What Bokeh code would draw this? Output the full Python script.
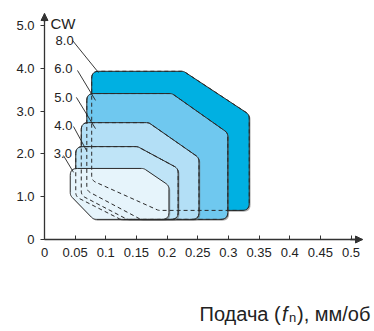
import math
from bokeh.plotting import figure
from bokeh.models import Range1d, LinearAxis, FixedTicker, Label, Arrow, NormalHead
from bokeh.embed import file_html
from bokeh.resources import INLINE

# ---------------- data ----------------
x_ticks = [0, 0.05, 0.1, 0.15, 0.2, 0.25, 0.3, 0.35, 0.4, 0.45, 0.5]
x_tick_labels = ["0", "0.05", "0.1", "0.15", "0.2", "0.25", "0.3", "0.35", "0.4", "0.45", "0.5"]
y_ticks = [0, 1, 2, 3, 4, 5]
y_tick_labels = ["0", "1.0", "2.0", "3.0", "4.0", "5.0"]

size_names = ["8.0", "6.0", "5.0", "4.0", "3.0"]
# outline vertices of each application area: feed (mm/rev), depth of cut (mm)
feed_80 = [0.077, 0.227, 0.334, 0.334, 0.186, 0.077]
depth_80 = [3.93, 3.93, 2.92, 0.68, 0.68, 1.38]
feed_60 = [0.069, 0.208, 0.299, 0.299, 0.157, 0.069]
depth_60 = [3.41, 3.41, 2.49, 0.47, 0.47, 1.14]
feed_50 = [0.060, 0.170, 0.252, 0.252, 0.135, 0.060]
depth_50 = [2.73, 2.73, 1.91, 0.47, 0.47, 1.03]
feed_40 = [0.051, 0.152, 0.218, 0.218, 0.124, 0.051]
depth_40 = [2.17, 2.17, 1.66, 0.47, 0.47, 1.00]
feed_30 = [0.042, 0.162, 0.203, 0.203, 0.080, 0.042]
depth_30 = [1.66, 1.66, 1.26, 0.47, 0.47, 1.03]

# ---------------- layout / style ----------------
FIG_W, FIG_H = 372, 329
X0_PX, Y0_PX = 44, 239          # where feed 0 / depth 0 sit on the canvas
SX, SY = 613.0, 42.8            # px per data unit
X_AXIS_END, Y_AXIS_END = 0.5188, 5.28
FONT = "Liberation Sans"
AX = "#333333"
TXT = "#222222"

fills = ["#00b0e2", "#6fc8ef", "#b3dff6", "#bfe4f7", "#e6f4fb"]
outlines = [(feed_80, depth_80), (feed_60, depth_60), (feed_50, depth_50),
            (feed_40, depth_40), (feed_30, depth_30)]

# annotation positions (data units)
label_pos = [(0.018, 4.66), (0.016, 3.99), (0.016, 3.31), (0.016, 2.66), (0.0152, 2.0)]
leader_x0 = [0.0457, 0.0538, 0.0520, 0.0473, 0.0310]
leader_y0 = [4.65, 3.95, 3.32, 2.64, 1.96]
leader_x1 = [0.0881, 0.0832, 0.0832, 0.0685, 0.0473]
leader_y1 = [3.90, 3.25, 2.59, 2.08, 1.57]


def ann_x(px):
    return (px - X0_PX) / SX


def ann_y(py):
    return (Y0_PX - py) / SY


def rounded(fx, fy, r_px=7.0, steps=8):
    pts = [(x * SX, y * SY) for x, y in zip(fx, fy)]
    n = len(pts)
    out = []
    for i in range(n):
        x0, y0 = pts[i - 1]
        x1, y1 = pts[i]
        x2, y2 = pts[(i + 1) % n]
        ax, ay = x0 - x1, y0 - y1
        bx, by = x2 - x1, y2 - y1
        la, lb = math.hypot(ax, ay), math.hypot(bx, by)
        ax, ay, bx, by = ax / la, ay / la, bx / lb, by / lb
        c = max(-1.0, min(1.0, ax * bx + ay * by))
        ang = math.acos(c)
        t = r_px / math.tan(ang / 2)
        t = min(t, 0.45 * la, 0.45 * lb)
        sx_, sy_ = x1 + ax * t, y1 + ay * t
        ex_, ey_ = x1 + bx * t, y1 + by * t
        for k in range(steps + 1):
            u = k / steps
            px = (1 - u) ** 2 * sx_ + 2 * (1 - u) * u * x1 + u ** 2 * ex_
            py = (1 - u) ** 2 * sy_ + 2 * (1 - u) * u * y1 + u ** 2 * ey_
            out.append((px, py))
    out.append(out[0])
    return [q[0] / SX for q in out], [q[1] / SY for q in out]


p = figure(frame_width=FIG_W, frame_height=FIG_H,
           x_range=Range1d(-X0_PX / SX, (FIG_W - X0_PX) / SX),
           y_range=Range1d(-(FIG_H - Y0_PX) / SY, Y0_PX / SY),
           x_axis_type=None, y_axis_type=None,
           output_backend="svg", toolbar_location=None, min_border=0)
p.outline_line_color = None
p.background_fill_color = "white"
p.border_fill_color = "white"

xaxis = LinearAxis(ticker=FixedTicker(ticks=x_ticks), fixed_location=0,
                   bounds=(0, X_AXIS_END),
                   major_label_overrides=dict(zip(x_ticks, x_tick_labels)))
yaxis = LinearAxis(ticker=FixedTicker(ticks=y_ticks), fixed_location=0,
                   bounds=(0, Y_AXIS_END),
                   major_label_overrides=dict(zip(y_ticks, y_tick_labels)))
for ax_, tin, tout, stand in [(xaxis, 4, 0, 8), (yaxis, 0, 4, 6)]:
    ax_.axis_line_color = AX
    ax_.axis_line_width = 1.3
    ax_.major_tick_line_color = AX
    ax_.major_tick_line_width = 1
    ax_.major_tick_in = tin
    ax_.major_tick_out = tout
    ax_.minor_tick_line_color = None
    ax_.major_label_text_font = FONT
    ax_.major_label_text_font_size = "13px"
    ax_.major_label_text_color = TXT
    ax_.major_label_standoff = stand
p.add_layout(xaxis, "below")
p.add_layout(yaxis, "left")

p.add_layout(Arrow(end=NormalHead(size=7, fill_color=AX, line_color=AX),
                   x_start=X_AXIS_END - 0.02, y_start=0, x_end=X_AXIS_END, y_end=0,
                   line_color=AX, line_width=1.3))
p.add_layout(Arrow(end=NormalHead(size=7, fill_color=AX, line_color=AX),
                   x_start=0, y_start=Y_AXIS_END - 0.2, x_end=0, y_end=Y_AXIS_END,
                   line_color=AX, line_width=1.3))

shapes = [rounded(fx, fy) for fx, fy in outlines]
dx, dy = 1.3 / SX, -1.3 / SY
for (xs, ys), col in zip(shapes, fills):
    p.patch([v + dx for v in xs], [v + dy for v in ys], fill_color="#6a6a6a",
            fill_alpha=0.55, line_color=None)
    p.patch(xs, ys, fill_color=col, line_color="#2a2a2a", line_width=1)

for xs, ys in shapes[:-1]:
    p.line(xs, ys, line_color="#2a2a2a", line_width=1, line_dash="4 3")

p.segment(x0=leader_x0, y0=leader_y0, x1=leader_x1, y1=leader_y1,
          line_color=TXT, line_width=0.9)

for name, (lx, ly) in zip(size_names, label_pos):
    p.add_layout(Label(x=lx, y=ly, text=name, text_font=FONT, text_font_size="13px",
                       text_color=TXT, text_baseline="alphabetic", text_align="left"))

p.add_layout(Label(x=0.0098, y=5.047, text="CW", text_font=FONT, text_font_size="15px",
                   text_color=TXT, text_baseline="alphabetic", text_align="left"))

# x-axis title pieces: text, left edge px, baseline px, size, style
title_parts = [("Подача (", 199, 313, "20px", "normal"),
               ("f", 281.5, 313, "20px", "italic"),
               ("n", 288.5, 317, "13px", "normal"),
               ("), мм/об", 296.5, 313, "20px", "normal")]
for txt, tx, ty, fs, st in title_parts:
    p.add_layout(Label(x=ann_x(tx), y=ann_y(ty), text=txt, text_font=FONT,
                       text_font_size=fs, text_font_style=st, text_color=TXT,
                       text_baseline="alphabetic", text_align="left"))

open("out.html", "w").write(file_html(p, INLINE))
